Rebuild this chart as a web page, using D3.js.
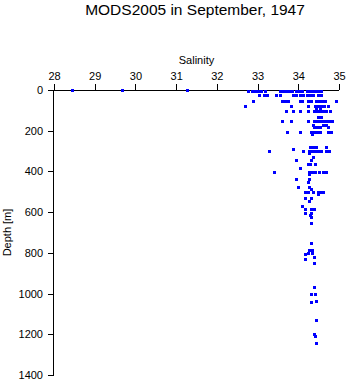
<!DOCTYPE html>
<html>
<head>
<meta charset="utf-8">
<script src="https://cdn.jsdelivr.net/npm/d3@7"></script>
<style>
  html, body { margin: 0; padding: 0; background: #fff; }
  svg { display: block; font-family: "Liberation Sans", Arial, Helvetica, sans-serif; }
</style>
</head>
<body>
<div id="chart"></div>
<script>
// Salinity/depth observations, September 1947 (MODS2005)
const salinity = [
  // surface stations
  28.44, 29.67, 31.27,
  // ~3 m
  32.77, 32.86, 32.94, 33.01, 33.08, 33.18, 33.55, 33.63, 33.70, 33.77, 33.85, 33.94, 34.02, 34.09, 34.21, 34.29, 34.36, 34.44, 34.51, 34.56,
  // ~25 m
  33.04, 33.16, 33.23, 33.45, 33.55, 33.87, 33.94, 34.04, 34.12, 34.21, 34.29, 34.36, 34.48, 34.56,
  // ~52 m
  32.89, 33.60, 33.67, 33.75, 34.04, 34.09, 34.24, 34.31, 34.44, 34.51, 34.58, 34.66, 34.93,
  // ~77 m
  32.69, 33.82, 34.24, 34.41, 34.48, 34.56, 34.63, 34.73,
  // ~88 m
  34.44, 34.53,
  // ~103 m
  33.70, 33.87, 34.04, 34.24, 34.39, 34.46, 34.53, 34.61, 34.68, 34.78,
  // ~133 m
  34.48, 34.56,
  // ~153 m
  33.60, 33.82, 34.24, 34.39, 34.46, 34.53, 34.61, 34.68, 34.75, 34.83,
  // ~172-182 m
  34.36, 34.61, 34.68,
  34.39, 34.46, 34.53, 34.73,
  // ~207-217 m
  33.72, 34.04, 34.31, 34.39, 34.46, 34.53, 34.73, 34.80,
  34.34,
  // ~280-310 m
  34.29, 34.36, 34.44, 34.68,
  33.87,
  33.28, 34.12, 34.26, 34.34, 34.41, 34.48, 34.56, 34.68, 34.75,
  34.26,
  // ~330-384 m
  34.36,
  33.94, 34.31,
  34.24, 34.29, 34.41,
  34.04,
  // ~404-453 m
  33.40, 34.26, 34.34, 34.41, 34.51, 34.61, 34.68,
  34.26,
  33.94, 34.26,
  34.24,
  // ~477-546 m
  33.99, 34.26,
  34.31,
  34.17, 34.24, 34.36, 34.48, 34.56, 34.61,
  34.48,
  34.17, 34.31,
  34.26,
  // ~571-654 m
  34.09,
  34.17, 34.31, 34.39,
  34.17, 34.31,
  34.29,
  34.31,
  34.31,
  // ~753-851 m
  34.31,
  34.26, 34.34,
  34.24, 34.34,
  34.17,
  34.39,
  34.17,
  34.39,
  // deep casts
  34.39,
  34.31, 34.41,
  34.44,
  34.31,
  34.44,
  34.39,
  34.41,
  34.44
];

const depth = [
  0, 0, 0,
  3, 3, 3, 3, 3, 3, 3, 3, 3, 3, 3, 3, 3, 3, 3, 3, 3, 3, 3, 3,
  25, 25, 25, 25, 25, 25, 25, 25, 25, 25, 25, 25, 25, 25,
  52, 52, 52, 52, 52, 52, 52, 52, 52, 52, 52, 52, 52,
  77, 77, 77, 77, 77, 77, 77, 77,
  88, 88,
  103, 103, 103, 103, 103, 103, 103, 103, 103, 103,
  133, 133,
  153, 153, 153, 153, 153, 153, 153, 153, 153, 153,
  172, 172, 172,
  182, 182, 182, 182,
  207, 207, 207, 207, 207, 207, 207, 207,
  217,
  280, 280, 280, 280,
  290,
  300, 300, 300, 300, 300, 300, 300, 300, 300,
  310,
  330,
  344, 344,
  364, 364, 364,
  384,
  404, 404, 404, 404, 404, 404, 404,
  413,
  438, 438,
  453,
  477, 477,
  487,
  502, 502, 502, 502, 502, 502,
  512,
  531, 531,
  546,
  571,
  586, 586, 586,
  605, 605,
  615,
  625,
  654,
  753,
  787, 787,
  802, 802,
  807,
  822,
  832,
  851,
  969,
  1000, 1000,
  1038,
  1043,
  1132,
  1201,
  1210,
  1245
];

const salinityTicks = [28, 29, 30, 31, 32, 33, 34, 35];
const depthTicks = [0, 200, 400, 600, 800, 1000, 1200, 1400];
const titleText = "MODS2005 in September, 1947";

const W = 348, H = 384;
const plot = { left: 54, right: 339, top: 90, bottom: 375 };

const svg = d3.select("#chart").append("svg")
  .attr("width", W).attr("height", H);

const x = d3.scaleLinear().domain([28, 35]).range([plot.left, plot.right]);
const y = d3.scaleLinear().domain([0, 1400]).range([plot.top, plot.bottom]);

// title
svg.append("text")
  .attr("x", 195).attr("y", 15)
  .attr("text-anchor", "middle")
  .attr("font-size", 15.5)
  .text(titleText);

// salinity axis along the top
const xAxis = svg.append("g")
  .attr("transform", `translate(0,${plot.top})`)
  .call(d3.axisTop(x).tickValues(salinityTicks).tickSize(6).tickPadding(4).tickFormat(d3.format("d")));
xAxis.select(".domain").attr("d", `M${plot.left},0.5H${plot.right}`);
xAxis.selectAll("text").attr("font-size", 11).attr("font-family", null);

svg.append("text")
  .attr("x", (plot.left + plot.right) / 2).attr("y", 64)
  .attr("text-anchor", "middle")
  .attr("font-size", 11)
  .text("Salinity");

// depth axis, increasing downward
const yAxis = svg.append("g")
  .attr("transform", `translate(${plot.left},0)`)
  .call(d3.axisLeft(y).tickValues(depthTicks).tickSize(6).tickPadding(5).tickFormat(d3.format("d")));
yAxis.select(".domain").attr("d", `M-0.5,${plot.top}V${plot.bottom}`);
yAxis.selectAll("text").attr("font-size", 11).attr("font-family", null);

svg.append("text")
  .attr("transform", `translate(11,${(plot.top + plot.bottom) / 2}) rotate(-90)`)
  .attr("text-anchor", "middle")
  .attr("font-size", 11)
  .text("Depth [m]");

svg.selectAll(".domain, .tick line").attr("stroke", "#000").attr("shape-rendering", "crispEdges");

// observations
const pts = salinity.map((s, i) => ({ s, d: depth[i] }));
svg.append("g")
  .attr("fill", "#0000ff")
  .attr("shape-rendering", "crispEdges")
  .selectAll("rect")
  .data(pts)
  .join("rect")
  .attr("x", p => Math.round(x(p.s)) - 1.5)
  .attr("y", p => Math.round(y(p.d)) - 1)
  .attr("width", 3)
  .attr("height", 3);
</script>
</body>
</html>
